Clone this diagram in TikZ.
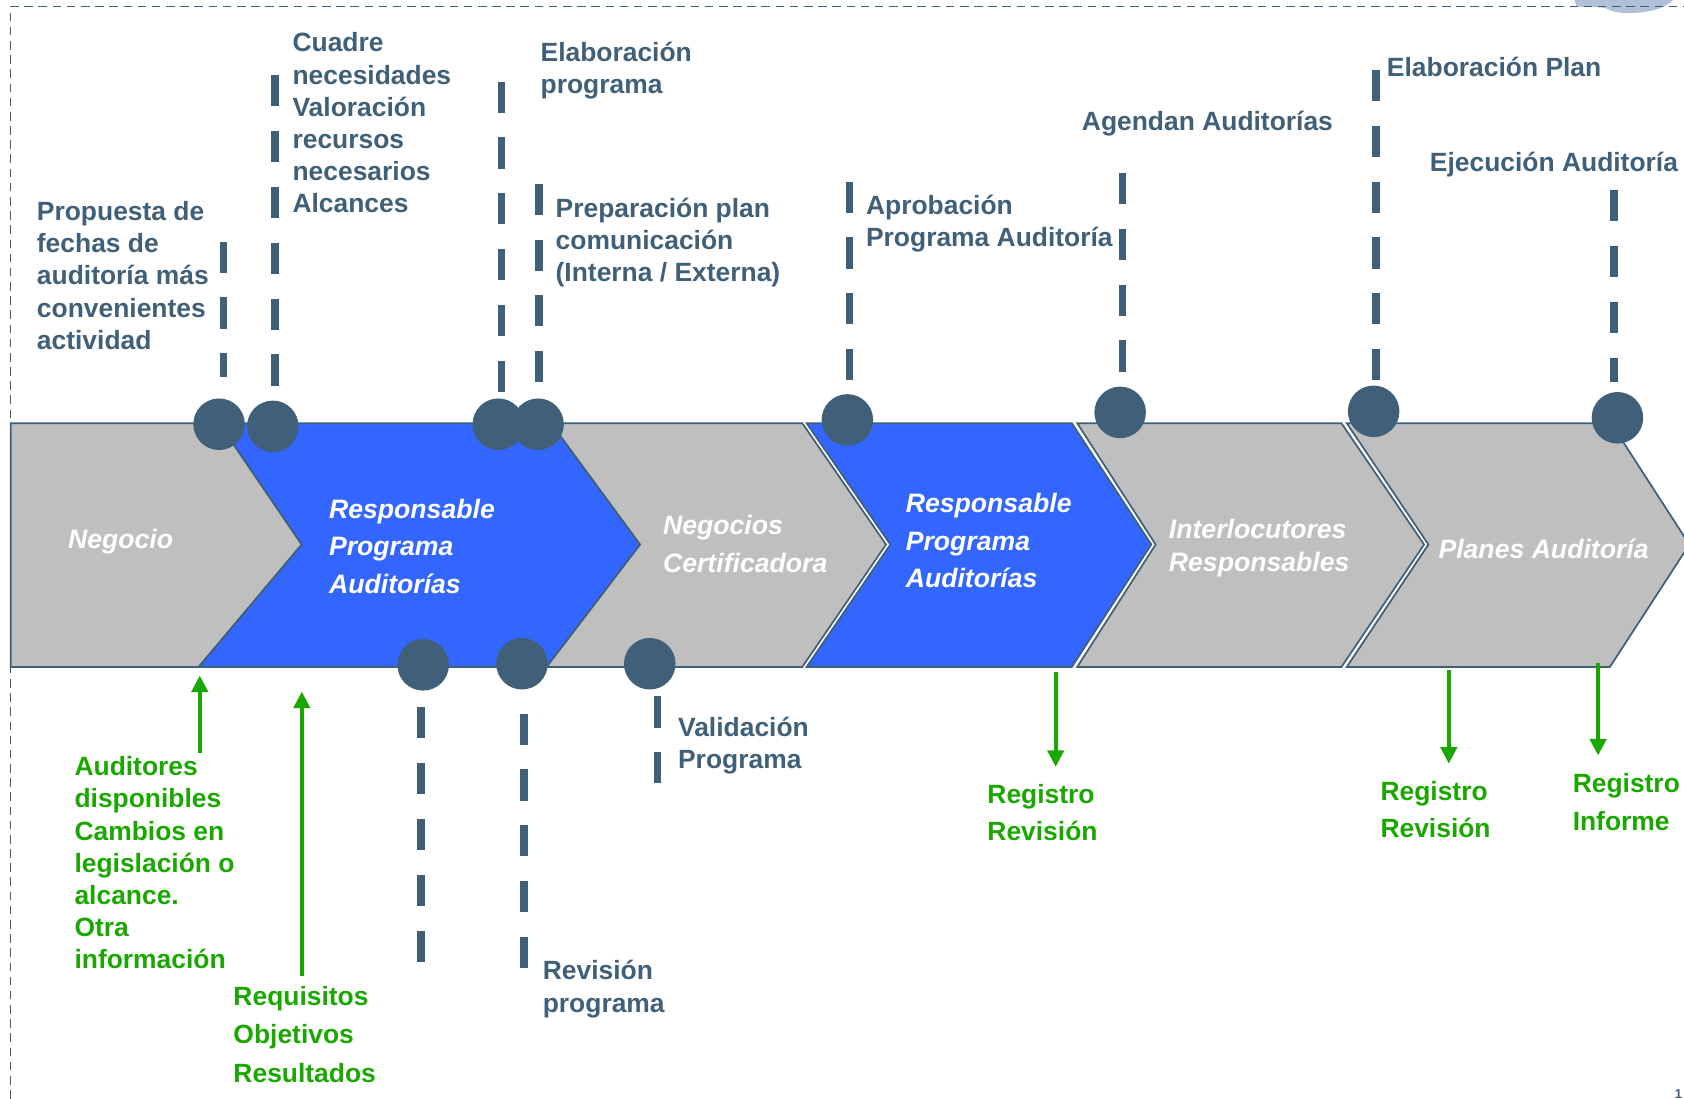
\documentclass[tikz,border=0pt]{standalone}
\usepackage{fontspec}
\setmainfont{Liberation Sans}
\usetikzlibrary{arrows.meta}
\usetikzlibrary{calc}
\definecolor{slate}{RGB}{64,96,121}
\definecolor{grn}{RGB}{26,168,0}
\definecolor{chblue}{RGB}{51,102,255}
\definecolor{chgray}{RGB}{191,191,191}
\definecolor{haze}{RGB}{176,192,214}
\tikzset{
  chev/.style={draw=slate, line width=0.8pt, line join=miter},
  dot/.style={circle, fill=slate, inner sep=0, minimum size=24pt},
  leader/.style={draw=slate, line width=3.5pt, dash pattern=on 14.5pt off 11.5pt},
  feed/.style={draw=grn, line width=1.7pt, -{Triangle[length=7.7pt,width=7.6pt]}},
  frame/.style={draw=slate, line width=0.6pt, dash pattern=on 4pt off 2.6pt},
  lbl/.style={anchor=north west, inner sep=0, align=left, text=slate,
    font=\bfseries\fontsize{12.3}{#1}\selectfont,
    execute at begin node=\rule{0pt}{10pt}},
  lbl/.default=15,
  glbl/.style={lbl=#1, text=grn},
  glbl/.default=15,
  clbl/.style={lbl=#1, text=white, font=\bfseries\itshape\fontsize{12.4}{#1}\selectfont},
  clbl/.default=17.5
}

\begin{document}
\begin{tikzpicture}[x=0.5pt, y=-0.5pt]
\useasboundingbox (0,0) rectangle (1568,1023);

% frame
\fill[haze] (1466,0) -- (1468,6) .. controls (1480,7) and (1490,6) .. (1496,8)
  .. controls (1505,14) and (1530,13) .. (1545,8) .. controls (1552,5) and (1556,2) .. (1558,0) -- cycle;
\draw[frame] (10,1023) -- (10,6) -- (1568,6);

% chevrons
\foreach \f/\a/\b/\c/\d/\e/\n in {chgray/10/204/281/185/10/10, chblue/204/513/596/509/185/281,
  chgray/513/747/825/747/509/596, chblue/751/998/1072/998/751/829,
  chgray/1003/1249/1326/1249/1003/1076, chgray/1254/1500/1573/1499/1254/1330}
  \filldraw[chev, fill=\f] (\a,394) -- (\b,394) -- (\c,507) -- (\d,621) -- (\e,621) -- (\n,507) -- cycle;

\node[clbl] (nNeg) at (63,490) {Negocio};
\node[clbl] (nRes1) at (306,464) {Responsable\\Programa\\Auditorías};
\node[clbl=17.8] (nCert) at (617,479) {Negocios\\Certificadora};
\node[clbl] (nRes2) at (843,459) {Responsable\\Programa\\Auditorías};
\node[clbl=15.5] (nInt) at (1088,483) {Interlocutores\\Responsables};
\node[clbl] (nPla) at (1339,500) {Planes Auditoría};

% milestones
\foreach \n/\x/\y in {c1/204/395, c2/254/397, c3/464/395, c4/501/395, c5/789/391,
  c6/1043/384, c7/1279/383, c8/1506/389, b1/394/619, b2/486/618, b3/605/618}
  \node[dot] (\n) at (\x,\y) {};

\foreach \n/\x/\y/\g in {c1/208/225/10, c2/256/70/6.5, c3/467/76/2.5, c4/502/171/7,
  c5/791/169/6.5, c6/1045/161/6.5, c7/1281/65/2.5, c8/1503/177/4.5}
  {\coordinate (u\n) at (\x,\y);
   \draw[leader, shorten >=\g pt] (u\n) -- (u\n |- \n.north);}

\foreach \n/\x/\y/\g in {b1/392/896/7.5, b2/488/902/11, b3/612/730/3}
  {\coordinate (d\n) at (\x,\y);
   \draw[leader, shorten <=\g pt] (d\n |- \n.south) -- (d\n);}

% labels
\node[lbl] (tPro) at (34,187) {Propuesta de\\fechas de\\auditoría más\\convenientes\\actividad};
\node[lbl] (tCua) at (272,30) {Cuadre\\necesidades\\Valoración\\recursos\\necesarios\\Alcances};
\node[lbl] (tEla) at (503,39) {Elaboración\\programa};
\node[lbl] (tPre) at (517,184) {Preparación plan\\comunicación\\(Interna / Externa)};
\node[lbl] (tApr) at (806,181) {Aprobación\\Programa Auditoría};
\node[lbl] (tAge) at (1007,101) {Agendan Auditorías};
\node[lbl] (tPlan) at (1291,51) {Elaboración Plan};
\node[lbl] (tEje) at (1331,139) {Ejecución Auditoría};
\node[lbl] (tVal) at (631,667) {Validación\\Programa};
\node[lbl] (tRev) at (505,894) {Revisión\\programa};

\node[glbl] (gAud) at (69,704) {Auditores\\disponibles\\Cambios en\\legislación o\\alcance.\\Otra\\información};
\node[glbl=17.9] (gReq) at (217,918) {Requisitos\\Objetivos\\Resultados};
\node[glbl=17.4] (gReg1) at (919,730) {Registro\\Revisión};
\node[glbl=17.4] (gReg2) at (1285,727) {Registro\\Revisión};
\node[glbl=17.4] (gReg3) at (1464,720) {Registro\\Informe};

% inputs and records
\coordinate (k1) at (186,629);
\coordinate (k2) at (281,644);
\coordinate (k3) at (983,626);
\coordinate (k4) at (1349,624);
\coordinate (k5) at (1488,617);
\draw[feed, shorten <=1.5pt] (gAud.north -| k1) -- (k1);
\draw[feed, shorten <=4.5pt] (gReq.north -| k2) -- (k2);
\draw[feed, shorten >=8pt] (k3) -- (gReg1.north -| k3);
\draw[feed, shorten >=8pt] (k4) -- (gReg2.north -| k4);
\draw[feed, shorten >=8.3pt] (k5) -- (gReg3.north -| k5);

\node[anchor=south west, inner sep=0, text=slate, font=\bfseries\fontsize{6}{7}\selectfont] (pg) at (1559,1023) {1};
\end{tikzpicture}
\end{document}
